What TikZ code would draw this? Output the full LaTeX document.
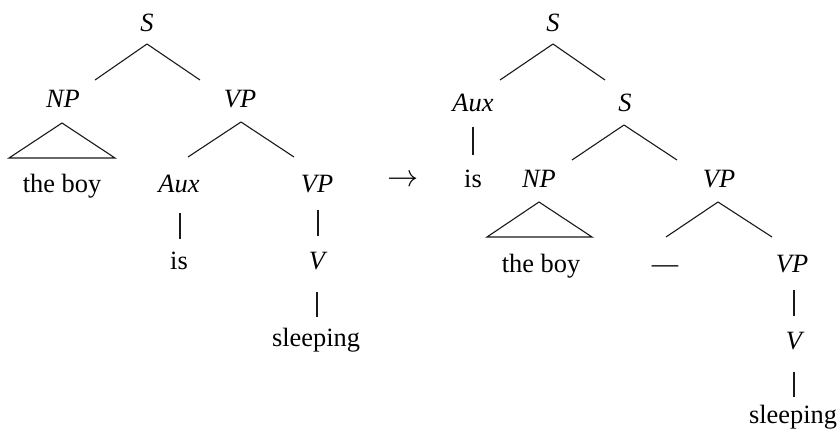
\documentclass[tikz,border=0pt]{standalone}
\usepackage{fontspec}
\setmainfont{Liberation Serif}
\begin{document}
\begin{tikzpicture}[x=1pt,y=-1pt,
  lbl/.style={anchor=base,inner sep=0pt,font=\fontsize{26.4}{30}\selectfont},
  cat/.style={lbl,font=\fontsize{26.4}{30}\selectfont\itshape},
  edge/.style={draw=black!90,line width=1.1pt}]
\useasboundingbox (0,0) rectangle (839,430);
% ---- left tree ----
\node[cat] (S1) at (147,32) {S};
\node[cat] (NP1) at (63,108) {NP};
\node[cat] (VP1) at (240,108) {VP};
\node[lbl] (boy1) at (62,193) {the boy};
\node[cat] (Aux1) at (179,193) {Aux};
\node[cat] (VP1b) at (317,193) {VP};
\node[lbl] (is1) at (179,270) {is};
\node[cat] (V1) at (317,270) {V};
\node[lbl] (sl1) at (316,347) {sleeping};
\draw[edge] ([yshift=-12pt]S1.base) -- ([xshift=32pt,yshift=28pt]NP1.base);
\draw[edge] ([yshift=-12pt]S1.base) -- ([xshift=-40pt,yshift=28pt]VP1.base);
\draw[edge] ([xshift=-1pt,yshift=-15pt]NP1.base) -- ([xshift=-53pt,yshift=35pt]boy1.base)
  -- ([xshift=53pt,yshift=35pt]boy1.base) -- cycle;
\draw[edge] ([xshift=1pt,yshift=-14pt]VP1.base) -- ([xshift=9pt,yshift=36pt]Aux1.base);
\draw[edge] ([xshift=1pt,yshift=-14pt]VP1.base) -- ([xshift=-23pt,yshift=36pt]VP1b.base);
\draw[edge] ([xshift=1pt,yshift=-20pt]Aux1.base) -- ([xshift=1pt,yshift=31pt]is1.base);
\draw[edge] ([xshift=1pt,yshift=-17pt]VP1b.base) -- ([xshift=1pt,yshift=34pt]V1.base);
\draw[edge] ([yshift=-22pt]V1.base) -- ([xshift=1pt,yshift=30pt]sl1.base);
% ---- arrow ----
\node[inner sep=0pt,scale=1.25,font=\fontsize{32}{36}\selectfont] (arr) at (403,181) {$\rightarrow$};
% ---- right tree ----
\node[cat] (S2) at (553,32) {S};
\node[cat] (Aux2) at (473,112) {Aux};
\node[cat] (S3) at (625,112) {S};
\node[lbl] (is2) at (473,188) {is};
\node[cat] (NP2) at (539,188) {NP};
\node[cat] (VP2) at (719,188) {VP};
\node[lbl] (boy2) at (541,273) {the boy};
\node[lbl] (gap) at (665,273) {—};
\node[cat] (VP3) at (792,273) {VP};
\node[cat] (V2) at (794,350) {V};
\node[lbl] (sl2) at (793,424) {sleeping};
\draw[edge] ([yshift=-12pt]S2.base) -- ([xshift=27pt,yshift=32pt]Aux2.base);
\draw[edge] ([yshift=-12pt]S2.base) -- ([xshift=-20pt,yshift=32pt]S3.base);
\draw[edge] ([xshift=-1pt,yshift=-13pt]S3.base) -- ([xshift=33pt,yshift=28pt]NP2.base);
\draw[edge] ([xshift=-1pt,yshift=-13pt]S3.base) -- ([xshift=-42pt,yshift=28pt]VP2.base);
\draw[edge] ([yshift=-15pt]Aux2.base) -- ([yshift=33pt]is2.base);
\draw[edge] ([yshift=-14pt]NP2.base) -- ([xshift=-54pt,yshift=36pt]boy2.base)
  -- ([xshift=51pt,yshift=36pt]boy2.base) -- cycle;
\draw[edge] ([xshift=-1pt,yshift=-14pt]VP2.base) -- ([xshift=1pt,yshift=36pt]gap.base);
\draw[edge] ([xshift=-1pt,yshift=-14pt]VP2.base) -- ([xshift=-20pt,yshift=36pt]VP3.base);
\draw[edge] ([xshift=2pt,yshift=-17pt]VP3.base) -- ([yshift=34pt]V2.base);
\draw[edge] ([yshift=-22pt]V2.base) -- ([xshift=1pt,yshift=27pt]sl2.base);
\end{tikzpicture}
\end{document}
